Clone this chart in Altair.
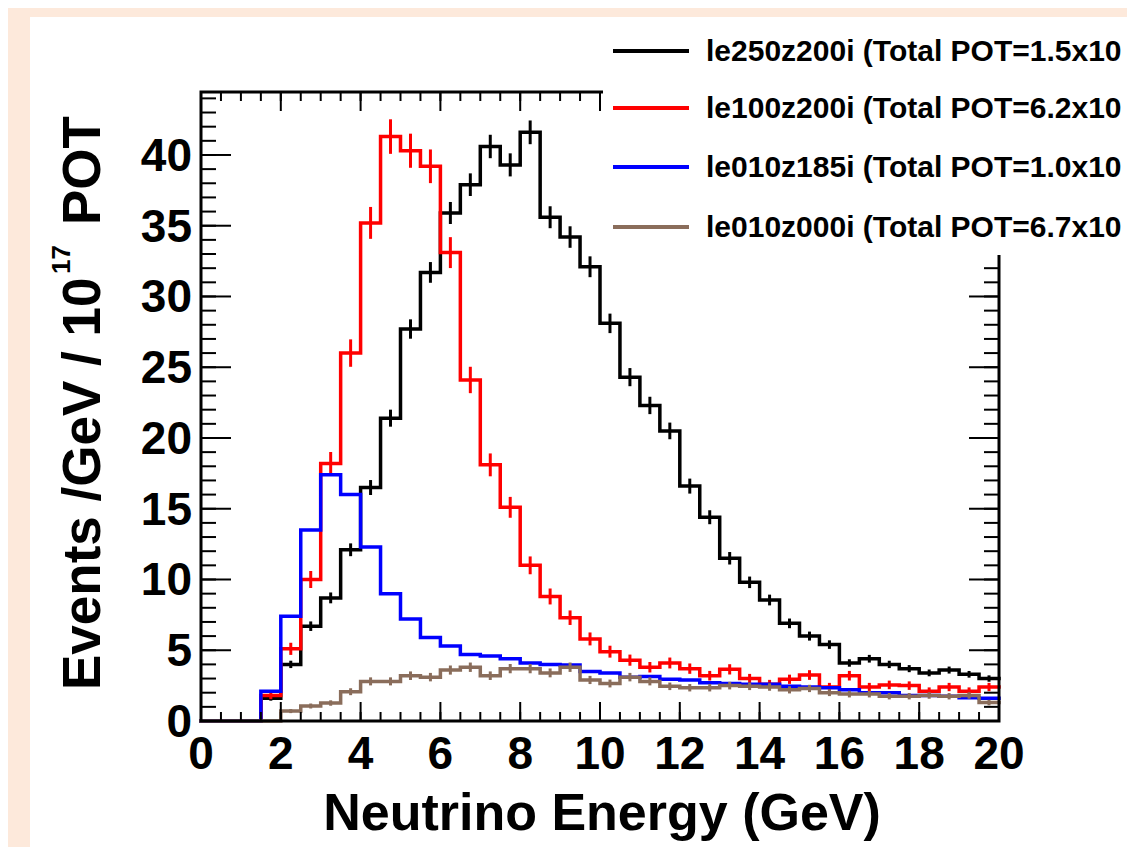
import altair as alt
import pandas as pd
import numpy as np

# ---------------- data ----------------
bin_edges = [i * 0.5 for i in range(41)]          # 0 .. 20 GeV, 0.5 GeV bins

series_names = ["le250z200i", "le100z200i", "le010z185i", "le010z000i"]
legend_labels = [
    "le250z200i (Total POT=1.5x10",
    "le100z200i (Total POT=6.2x10",
    "le010z185i (Total POT=1.0x10",
    "le010z000i (Total POT=6.7x10",
]
legend_exps = ["19", "18", "20", "18"]
colors = ["#000000", "#ff0000", "#0000ff", "#8a6d5b"]

black = [0, 0, 0, 1.6, 4.0, 6.7, 8.7, 12.1, 16.5, 21.4, 27.7, 31.7, 35.9, 37.9, 40.6,
         39.3, 41.6, 35.6, 34.2, 32.1, 28.1, 24.3, 22.3, 20.5, 16.6, 14.4, 11.5, 9.8,
         8.55, 6.9, 6.0, 5.4, 4.1, 4.4, 4.0, 3.7, 3.4, 3.6, 3.3, 3.0]
red = [0, 0, 0, 1.8, 5.1, 10.0, 18.2, 26.0, 35.2, 41.3, 40.3, 39.2, 33.1, 24.1, 18.1,
       15.1, 11.0, 8.8, 7.3, 5.8, 4.9, 4.3, 3.8, 4.1, 3.7, 3.2, 3.65, 3.0, 2.6, 2.95,
       3.25, 2.4, 3.2, 2.4, 2.55, 2.5, 2.1, 2.4, 2.1, 2.4]
blue = [0, 0, 0, 2.1, 7.4, 13.5, 17.4, 16.0, 12.3, 9.0, 7.2, 5.9, 5.3, 4.7, 4.6, 4.4,
        4.1, 4.0, 3.95, 3.5, 3.4, 3.1, 3.15, 2.95, 2.9, 2.7, 2.65, 2.6, 2.6, 2.45, 2.4,
        2.35, 2.2, 2.0, 2.0, 1.8, 1.8, 1.75, 1.65, 1.6]
brown = [0, 0, 0, 0, 0.7, 1.06, 1.27, 2.07, 2.8, 2.8, 3.2, 3.1, 3.6, 3.8, 3.2, 3.7, 3.7,
         3.4, 3.8, 2.9, 2.65, 3.1, 2.8, 2.45, 2.35, 2.35, 2.5, 2.45, 2.4, 2.2, 2.3, 2.0,
         1.9, 1.9, 1.75, 1.75, 1.8, 1.75, 1.8, 1.3]
series_values = [black, red, blue, brown]
err_scale = [0.13, 0.19, 0.02, 0.17]   # statistical error ~ k*sqrt(N)

x_major = [0, 2, 4, 6, 8, 10, 12, 14, 16, 18, 20]
x_minor = [i * 0.5 for i in range(41)]
y_major = [0, 5, 10, 15, 20, 25, 30, 35, 40]
y_minor = list(range(0, 45))
x_title = "Neutrino Energy (GeV)"

X_MAX = 20
Y_MAX = 44.45
W, H = 798, 629
PEACH = "#fde9db"

FONT = "Liberation Sans"
xs = alt.Scale(domain=[0, X_MAX], nice=False, zero=False)
ys = alt.Scale(domain=[0, Y_MAX], nice=False, zero=False)
xq = alt.X("E:Q", scale=xs, axis=None)
yq = alt.Y("v:Q", scale=ys, axis=None)

one = pd.DataFrame({"a": [0]})

layers = []

# histograms
for name, vals, col, k in zip(series_names, series_values, colors, err_scale):
    step = pd.DataFrame({"E": bin_edges, "v": list(vals) + [vals[-1]]})
    centers = [e + 0.25 for e in bin_edges[:-1]]
    eb = pd.DataFrame({"E": centers, "v": vals})
    eb = eb[eb["v"] > 0].copy()
    eb["lo"] = eb["v"] - k * np.sqrt(eb["v"])
    eb["hi"] = eb["v"] + k * np.sqrt(eb["v"])

    layers.append(alt.Chart(step).mark_line(
        interpolate="step-after", color=col, strokeWidth=3.5, strokeJoin="miter",
        strokeCap="square").encode(x=xq, y=yq))
    layers.append(alt.Chart(eb).mark_rule(color=col, strokeWidth=3).encode(
        x=xq, y=alt.Y("lo:Q", scale=ys, axis=None), y2="hi:Q"))

# tick marks (ROOT style, inside the frame on all four sides)
ymaj = pd.DataFrame({"v": y_major})
ymin = pd.DataFrame({"v": y_minor})
xmaj = pd.DataFrame({"E": x_major})
xmin = pd.DataFrame({"E": x_minor})
for df, ln in ((ymaj, 30), (ymin, 15)):
    layers.append(alt.Chart(df).mark_rule(color="black", strokeWidth=2).encode(
        y=yq, x=alt.value(0), x2=alt.value(ln)))
    layers.append(alt.Chart(df).mark_rule(color="black", strokeWidth=2).encode(
        y=yq, x=alt.value(W), x2=alt.value(W - ln)))
for df, ln in ((xmaj, 19), (xmin, 9)):
    layers.append(alt.Chart(df).mark_rule(color="black", strokeWidth=2).encode(
        x=xq, y=alt.value(H), y2=alt.value(H - ln)))
    layers.append(alt.Chart(df).mark_rule(color="black", strokeWidth=2).encode(
        x=xq, y=alt.value(0), y2=alt.value(ln)))

# frame
layers.append(alt.Chart(one).mark_rect(filled=False, stroke="black", strokeWidth=3).encode(
    x=alt.value(0), x2=alt.value(W), y=alt.value(0), y2=alt.value(H)))

# tick labels (drawn through the scales)
xlab = pd.DataFrame({"E": x_major, "t": [str(v) for v in x_major]})
ylab = pd.DataFrame({"v": y_major, "t": [str(v) for v in y_major]})
layers.append(alt.Chart(xlab).mark_text(
    font=FONT, fontWeight="bold", fontSize=46, color="black", align="center",
    baseline="alphabetic").encode(x=xq, y=alt.value(H + 48), text="t:N"))
layers.append(alt.Chart(ylab).mark_text(
    font=FONT, fontWeight="bold", fontSize=46, color="black", align="right",
    baseline="alphabetic", dy=16).encode(y=yq, x=alt.value(-9), text="t:N"))

# x title
layers.append(alt.Chart(one).mark_text(
    text=x_title, font=FONT, fontWeight="bold", fontSize=52, color="black",
    align="center", baseline="alphabetic").encode(x=alt.value(W / 2 + 2), y=alt.value(738)))

# peach page border strips (left and top)
layers.append(alt.Chart(one).mark_rect(color=PEACH).encode(
    x=alt.value(-210), x2=alt.value(-171), y=alt.value(-100), y2=alt.value(780)))
layers.append(alt.Chart(one).mark_rect(color=PEACH).encode(
    x=alt.value(-210), x2=alt.value(960), y=alt.value(-100), y2=alt.value(-75)))

# y title pieces (rotated)
ttl = dict(font=FONT, fontWeight="bold", color="black", angle=270, align="left",
           baseline="alphabetic")
layers.append(alt.Chart(one).mark_text(text="Events /GeV / 10", fontSize=53, **ttl).encode(
    x=alt.value(-101), y=alt.value(598)))
layers.append(alt.Chart(one).mark_text(text="17", fontSize=26, **ttl).encode(
    x=alt.value(-131), y=alt.value(182)))
layers.append(alt.Chart(one).mark_text(text="POT", fontSize=53, **ttl).encode(
    x=alt.value(-101), y=alt.value(133)))

# legend box (white, no border) + entries
layers.append(alt.Chart(one).mark_rect(color="white").encode(
    x=alt.value(402), x2=alt.value(960), y=alt.value(-75), y2=alt.value(163)))
row_y = [-41, 16, 75, 135]
for lab, ex, col, ry in zip(legend_labels, legend_exps, colors, row_y):
    layers.append(alt.Chart(one).mark_rule(color=col, strokeWidth=4).encode(
        x=alt.value(412), x2=alt.value(488), y=alt.value(ry)))
    layers.append(alt.Chart(one).mark_text(
        text=lab, font=FONT, fontWeight="bold", fontSize=30, color="black",
        align="left", baseline="middle").encode(x=alt.value(505), y=alt.value(ry + 1)))
    layers.append(alt.Chart(one).mark_text(
        text=ex, font=FONT, fontWeight="bold", fontSize=18, color="black",
        align="left", baseline="middle").encode(x=alt.value(926), y=alt.value(ry - 10)))

chart = alt.layer(*layers).properties(
    width=W, height=H,
    autosize=alt.AutoSizeParams(type="none"),
    padding={"left": 193, "top": 84, "right": 128, "bottom": 126},
    background="white",
).configure_view(stroke=None)

chart.save("out.html", embed_options={"renderer": "svg", "actions": False})
